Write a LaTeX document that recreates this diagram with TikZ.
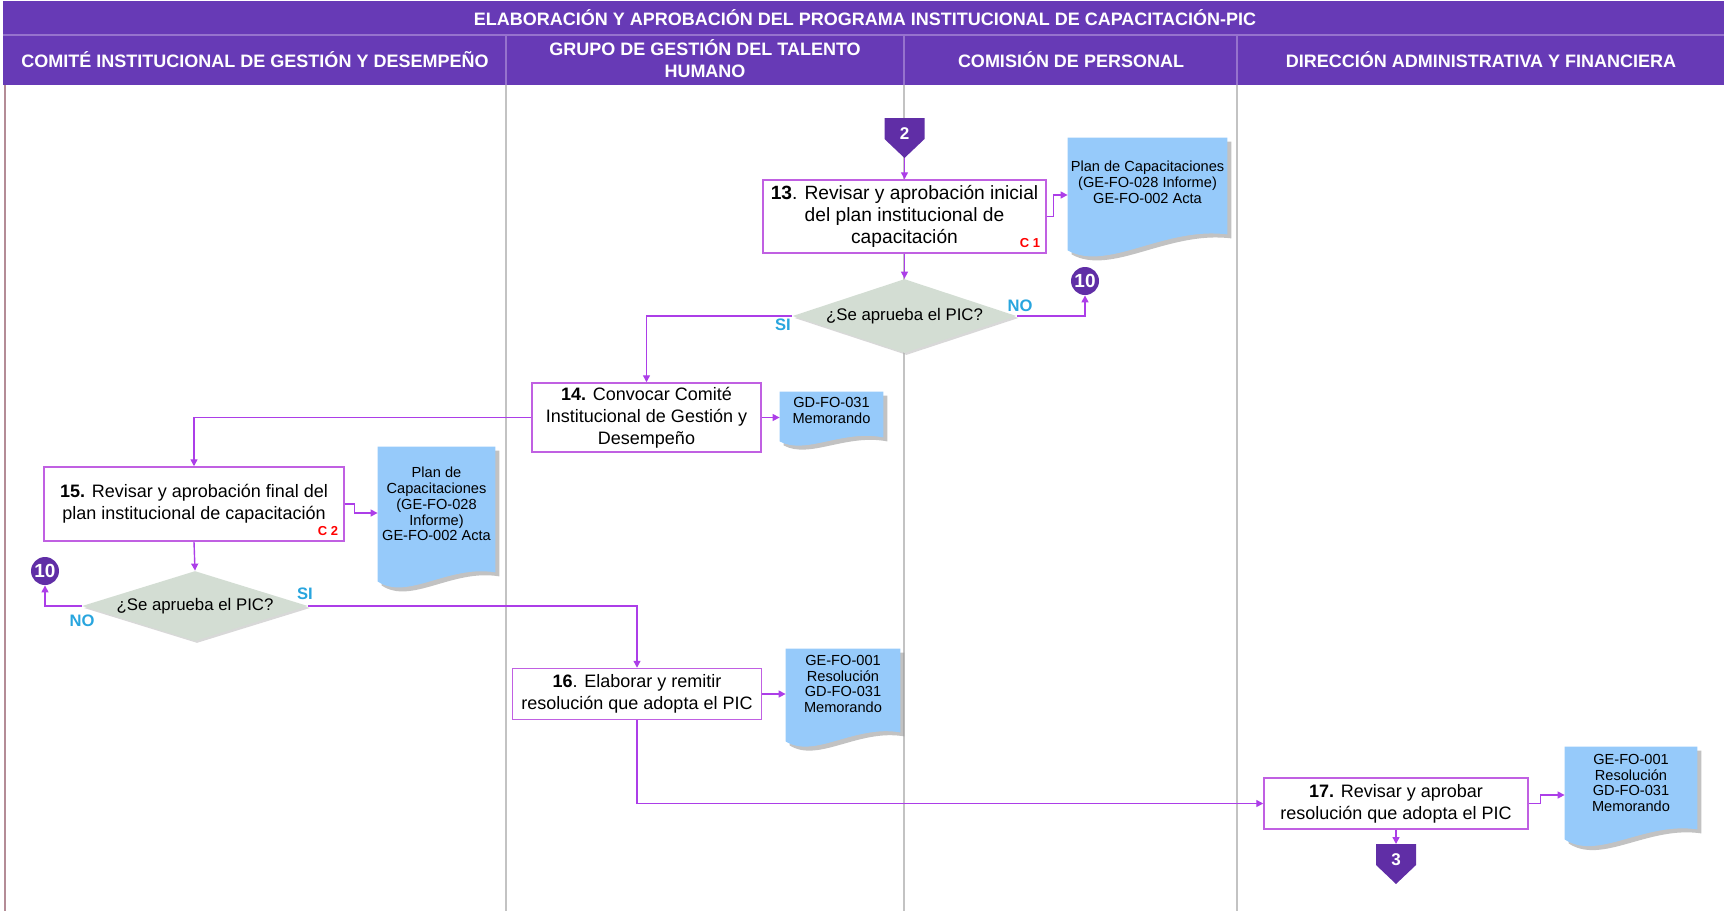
\documentclass[tikz,border=0pt]{standalone}
\usepackage{fontspec}
\setmainfont{Liberation Sans}
\usetikzlibrary{calc,shapes.geometric,arrows.meta,shadows}

\definecolor{hdrpurple}{RGB}{103,58,182}
\definecolor{hdrline}{RGB}{150,115,205}
\definecolor{markpurple}{RGB}{96,46,166}
\definecolor{flowline}{RGB}{172,62,232}
\definecolor{boxline}{RGB}{192,96,226}
\definecolor{docblue}{RGB}{150,202,250}
\definecolor{decgray}{RGB}{211,221,211}
\definecolor{sinocol}{RGB}{40,165,222}
\definecolor{lanegray}{RGB}{195,195,195}
\definecolor{lanepink}{RGB}{180,140,150}

\pgfdeclarelayer{bg}
\pgfsetlayers{bg,main}

\tikzset{
  hdr/.style={text=white, align=center, font=\bfseries\fontsize{9}{11}\selectfont},
  act/.style={draw=boxline, line width=0.75pt, fill=white, inner sep=2pt, align=center, font=\fontsize{9}{11}\selectfont},
  doc/.style={inner sep=1pt, align=center, font=\fontsize{7.3}{7.9}\selectfont},
  dec/.style={diamond, aspect=3, fill=decgray, inner sep=0pt, font=\fontsize{8.4}{10}\selectfont,
    drop shadow={shadow xshift=1pt, shadow yshift=-1pt, fill=gray!60, opacity=.5}},
  flow/.style={flowline, line width=0.7pt, -{Triangle[length=3.5pt,width=3.5pt]}},
  onpage/.style={circle, fill=markpurple, text=white, inner sep=0pt, minimum size=14pt, font=\bfseries\fontsize{9.5}{10}\selectfont},
  pagenum/.style={text=white, inner sep=0pt, font=\bfseries\fontsize{8.5}{10}\selectfont},
  yesno/.style={text=sinocol, font=\bfseries\fontsize{8.3}{9}\selectfont},
  ctrl/.style={text=red, font=\bfseries\fontsize{6.5}{7}\selectfont},
}

% document sheet behind a doc node: node, right drop, left drop, dip
\newcommand\docpaper[4]{%
  \fill[docblue, drop shadow={shadow xshift=2pt, shadow yshift=-2pt, fill=gray!80, opacity=.6}]
    (#1.north west) -- (#1.north east) -- ($(#1.south east)+(0,#2)$)
    .. controls ($(#1.south west)!0.6!(#1.south east)+(0,#2-8)$) and ($(#1.south west)!0.25!(#1.south east)+(0,#3+#4)$)
    .. ($(#1.south west)+(0,#3)$) -- cycle;}

% off-page connector: name, x, top y, label
\newcommand\offpagemark[4]{%
  \fill[markpurple] (#2-20,#3) -- (#2+20,#3) -- (#2+20,#3+21) -- (#2,#3+40) -- (#2-20,#3+21) -- cycle;
  \node[pagenum] (#1) at (#2,#3+16) {#4};
  \coordinate (#1 top) at (#2,#3);
  \coordinate (#1 tip) at (#2,#3+40);}

\begin{document}
\begin{tikzpicture}[x=0.5pt,y=-0.5pt]
  \useasboundingbox (0,0) rectangle (1724,911);

  % header rows
  \fill[hdrpurple] (3,1) rectangle (1724,85);
  \draw[hdrline, line width=0.8pt] (3,35) -- (1724,35);
  \foreach \x in {506,904,1237}
  {
  \draw[hdrline, line width=0.8pt] (\x,35) -- (\x,85);
  }
  \begin{pgfonlayer}{bg}
  \foreach \x in {506,904,1237}
  {
  \draw[lanegray, line width=1pt] (\x,85) -- (\x,911);
  }
  \end{pgfonlayer}
  \draw[lanepink, line width=1pt] (5,85) -- (5,911);

  \node[hdr] (title) at (865,18) {ELABORACIÓN Y APROBACIÓN DEL PROGRAMA INSTITUCIONAL DE CAPACITACIÓN-PIC};
  \node[hdr] (lane1) at (255,60) {COMITÉ INSTITUCIONAL DE GESTIÓN Y DESEMPEÑO};
  \node[hdr] (lane2) at (705,59) {GRUPO DE GESTIÓN DEL TALENTO\\HUMANO};
  \node[hdr] (lane3) at (1071,60) {COMISIÓN DE PERSONAL};
  \node[hdr] (lane4) at (1481,60) {DIRECCIÓN ADMINISTRATIVA Y FINANCIERA};

  % activities
  \node[act, minimum width=141.5pt, minimum height=36.5pt, font=\fontsize{9.6}{11.2}\selectfont] (b13) at (904.5,216.5)
    {\textbf{13}. Revisar y aprobación inicial\\del plan institucional de\\capacitación};
  \node[act, minimum width=114.5pt, minimum height=34.5pt] (b14) at (646.5,417.5)
    {\textbf{14.} Convocar Comité\\Institucional de Gestión y\\Desempeño};
  \node[act, minimum width=150pt, minimum height=37pt] (b15) at (194,504)
    {\textbf{15.} Revisar y aprobación final del\\plan institucional de capacitación};
  \node[act, minimum width=124.5pt, minimum height=25.5pt] (b16) at (637,694)
    {\textbf{16}. Elaborar y remitir\\resolución que adopta el PIC};
  \node[act, minimum width=132pt, minimum height=25.5pt] (b17) at (1396,803.5)
    {\textbf{17.} Revisar y aprobar\\resolución que adopta el PIC};
  \node[ctrl] (c1) at (1030,243) {C 1};
  \node[ctrl] (c2) at (328,531) {C 2};

  % decisions
  \node[dec, minimum width=112pt, minimum height=37pt] (q13) at (904.5,316) {¿Se aprueba el PIC?};
  \node[dec, minimum width=113pt, minimum height=35pt] (q15) at (195,606) {¿Se aprueba el PIC?};

  % connectors
  \node[onpage] (n10a) at (1085,281) {10};
  \node[onpage] (n10b) at (45,571) {10};
  \offpagemark{off2}{904.5}{118}{2}
  \offpagemark{off3}{1396}{844}{3}

  % documents
  \node[doc, minimum width=79.5pt, minimum height=44pt] (d13) at (1147.5,182)
    {Plan de Capacitaciones\\(GE-FO-028 Informe)\\GE-FO-002 Acta};
  \node[doc, minimum width=51.5pt, minimum height=18.5pt] (d14) at (831.5,410.5)
    {GD-FO-031\\Memorando};
  \node[doc, minimum width=58.5pt, minimum height=57pt] (d15) at (436.5,504)
    {Plan de\\Capacitaciones\\(GE-FO-028\\Informe)\\GE-FO-002 Acta};
  \node[doc, minimum width=57pt, minimum height=35pt] (d16) at (843,684)
    {GE-FO-001\\Resolución\\GD-FO-031\\Memorando};
  \node[doc, minimum width=66pt, minimum height=36pt] (d17) at (1631,783)
    {GE-FO-001\\Resolución\\GD-FO-031\\Memorando};
  \begin{pgfonlayer}{bg}
  \docpaper{d13}{8}{24}{22}
  \docpaper{d14}{8}{12}{14}
  \docpaper{d15}{11}{20}{20}
  \docpaper{d16}{13}{22}{18}
  \docpaper{d17}{10}{20}{22}
  \end{pgfonlayer}

  % flow
  \draw[flow] (off2 tip) -- (b13.north);
  \draw[flow] (b13.east) -- ++(7,0) |- ($(d13.west)+(0,13)$);
  \draw[flow] (b13.south) -- (q13.north);
  \draw[flow] (q13.west) -| (b14.north);
  \draw[flow] (q13.east) -| (n10a.south);
  \node[yesno] (si1) at (783,325) {SI};
  \node[yesno] (no1) at (1020,306) {NO};
  \draw[flow] (b14.east) -- (b14.east -| d14.west);
  \draw[flow] (b14.west) -| (b15.north);
  \draw[flow] (b15.east) -- ++(10,0) |- ($(d15.west)+(0,9)$);
  \draw[flow] (b15.south) -- (q15.north);
  \draw[flow] (q15.west) -| (n10b.south);
  \draw[flow] (q15.east) -| (b16.north);
  \node[yesno] (no2) at (82,621) {NO};
  \node[yesno] (si2) at (305,594) {SI};
  \draw[flow] (b16.east) -- (b16.east -| d16.west);
  \draw[flow] (b16.south) |- (b17.west);
  \draw[flow] (b17.east) -- ++(12,0) |- ($(d17.west)+(0,12)$);
  \draw[flow] (b17.south) -- (off3 top);
\end{tikzpicture}
\end{document}
